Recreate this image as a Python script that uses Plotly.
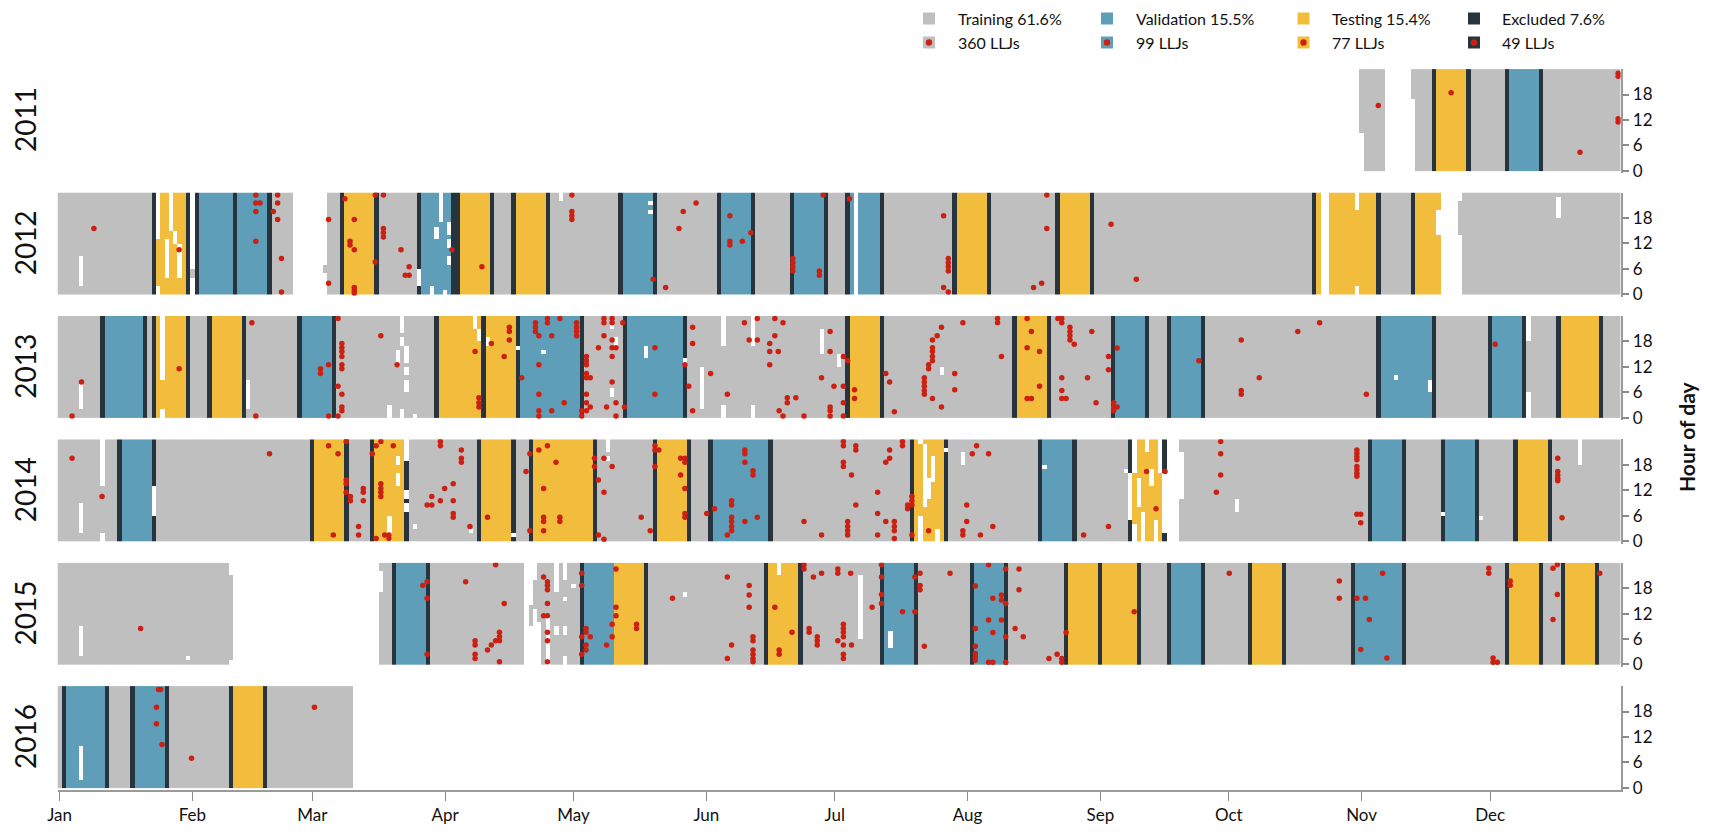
import plotly.graph_objects as go

# The page body has an 8px default margin; the figure is sized and laid out to compensate.
PAGE_W, PAGE_H = 1709, 835
OFF = 8
W, H = PAGE_W - 2 * OFF, PAGE_H - 2 * OFF


def px(xpix):
    return (xpix - OFF) / W


def py(ypix):
    return 1 - (ypix - OFF) / H


GRAY = "#bfbfbf"
BLUE = "#5e9eb8"
YELLOW = "#f2bc3c"
DARK = "#27343d"
RED = "#cc2012"
FONT = "Lato, 'Open Sans', sans-serif"

YEARS = [2011, 2012, 2013, 2014, 2015, 2016]
MONTH_TICKS = [0, 31, 59, 90, 120, 151, 181, 212, 243, 273, 304, 334]
MONTH_LABELS = ["Jan", "Feb", "Mar", "Apr", "May", "Jun", "Jul", "Aug", "Sep", "Oct", "Nov", "Dec"]
HOUR_TICKS = [0, 6, 12, 18]
LEGEND_LABELS = ["Training 61.6%", "Validation 15.5%", "Testing 15.4%", "Excluded 7.6%"]
LEGEND_COUNTS = ["360 LLJs", "99 LLJs", "77 LLJs", "49 LLJs"]

# ---- data coverage: (first_day, last_day) with data, all hours ----
COVERAGE = {
    2011: [(305, 309), (317, 364)],
    2012: [(0, 30), (32, 54), (63, 185), (187, 294), (297, 322), (328, 364)],
    2013: [(0, 364)],
    2014: [(0, 258), (262, 364)],
    2015: [(0, 39), (75, 108), (110, 364)],
    2016: [(0, 68)],
}
# partially covered days: (day, first_hour, last_hour)
PARTIAL = {
    2011: [(304, 9, 23), (316, 17, 23)],
    2012: [(31, 4, 5), (62, 5, 6), (327, 14, 21)],
    2013: [],
    2014: [],
    2015: [(40, 1, 20)],
    2016: [],
}
# validation weeks (first_day, last_day)
VALIDATION = {
    2011: [(339, 345)],
    2012: [(33, 40), (42, 48), (85, 91), (132, 138), (155, 161), (172, 178), (185, 191)],
    2013: [(11, 19), (57, 63), (108, 121), (133, 145), (247, 253), (260, 266), (309, 320), (335, 341)],
    2014: [(15, 21), (153, 165), (230, 236), (307, 313), (324, 330)],
    2015: [(79, 85), (123, 129), (193, 199), (214, 220), (260, 266), (303, 313)],
    2016: [(2, 10), (18, 24)],
}
# testing weeks (first_day, last_day)
TESTING = {
    2011: [(322, 328)],
    2012: [(23, 29), (67, 73), (94, 100), (107, 113), (210, 216), (234, 240), (294, 294), (297, 307), (317, 322)],
    2013: [(23, 29), (36, 42), (89, 98), (100, 106), (185, 191), (224, 230), (351, 359)],
    2014: [(60, 66), (74, 80), (99, 105), (111, 124), (140, 146), (200, 206), (251, 257), (341, 347)],
    2015: [(130, 136), (166, 172), (236, 242), (244, 251), (279, 285), (339, 345), (352, 358)],
    2016: [(41, 47)],
}
# missing hours inside covered days: (day, first_hour, last_hour)
GAPS = {
    2011: [],
    2012: [(5, 2, 8), (23, 13, 23), (23, 0, 1), (25, 4, 12), (26, 15, 23), (27, 12, 14), (28, 4, 11),
           (84, 2, 5), (87, 0, 1), (88, 13, 15), (89, 17, 23), (90, 0, 0), (91, 14, 16), (91, 11, 12),
           (91, 7, 8), (117, 22, 23), (138, 21, 21), (138, 19, 19), (303, 20, 23), (303, 0, 1),
           (322, 14, 19), (350, 18, 22)],
    2013: [(5, 2, 7), (24, 9, 23), (24, 0, 1), (44, 2, 8), (80, 20, 23), (80, 17, 18), (81, 13, 16),
           (79, 12, 15), (81, 10, 11), (81, 6, 8), (77, 0, 2), (80, 0, 1), (83, 0, 0), (97, 21, 23),
           (98, 18, 20), (100, 17, 18), (107, 16, 16), (113, 15, 15), (129, 21, 23), (130, 17, 18),
           (129, 5, 6), (137, 14, 16), (146, 13, 13), (150, 2, 11), (155, 17, 23), (155, 0, 2),
           (162, 17, 23), (162, 0, 2), (178, 15, 20), (182, 12, 14), (206, 10, 11), (312, 9, 9),
           (320, 6, 8), (343, 0, 5), (343, 18, 23)],
    2014: [(5, 2, 8), (10, 13, 23), (10, 0, 1), (22, 6, 12), (77, 0, 5), (79, 18, 19), (79, 13, 15),
           (81, 19, 23), (81, 10, 11), (81, 7, 8), (83, 3, 3), (96, 2, 2), (106, 1, 1), (128, 21, 23),
           (128, 19, 19), (201, 0, 5), (201, 23, 23), (202, 8, 22), (203, 10, 14), (204, 14, 19),
           (205, 0, 2), (207, 21, 21), (211, 18, 20), (230, 17, 17), (249, 16, 16), (250, 5, 15),
           (251, 16, 23), (251, 0, 3), (252, 8, 14), (253, 0, 6), (254, 21, 23), (255, 13, 16),
           (256, 0, 4), (257, 16, 23), (258, 2, 15), (262, 10, 20), (275, 7, 9), (323, 6, 6),
           (332, 5, 5), (355, 18, 23)],
    2015: [(5, 2, 8), (30, 1, 1), (75, 17, 21), (110, 0, 8), (110, 14, 23), (111, 0, 12), (111, 20, 23),
           (112, 0, 9), (114, 0, 11), (116, 17, 23), (116, 7, 8), (118, 20, 23), (118, 15, 15),
           (118, 7, 8), (118, 0, 1), (120, 18, 18), (146, 16, 16), (168, 21, 23), (187, 6, 20),
           (194, 4, 7)],
    2016: [(5, 2, 9)],
}

# ---- low-level jets: (day of year, hour) ----
LLJ_2011 = [(307.9, 15.4), (324.9, 18.4), (355.0, 4.4), (363.9, 23.0), (363.9, 22.3), (363.9, 12.3),
            (363.9, 11.5)]
LLJ_2012 = [(8.0, 15.5), (27.9, 10.5), (45.8, 23.4), (45.8, 21.5), (46.8, 21.5), (45.8, 19.5), (45.8, 12.5),
            (50.9, 23.4), (50.9, 21.5), (49.9, 19.5), (50.9, 17.6), (51.8, 8.4), (51.8, 0.5),
            (62.8, 17.6), (62.8, 2.6), (66.6, 22.5), (68.8, 17.6), (67.8, 12.5), (67.8, 11.6), (68.8, 10.5),
            (68.8, 1.6), (68.8, 0.9), (68.8, 0.3), (73.7, 23.4), (73.7, 7.6), (75.6, 23.4), (75.6, 15.5),
            (75.6, 14.5), (75.6, 13.5), (79.7, 10.5), (81.6, 6.5), (80.7, 4.5), (81.6, 4.5), (91.6, 10.5),
            (98.6, 6.5), (119.6, 23.4), (119.6, 19.5), (119.6, 18.5), (119.6, 17.6), (138.6, 3.5),
            (141.5, 1.6), (144.6, 15.5), (145.6, 19.5), (148.6, 21.5), (156.5, 18.5), (156.5, 12.5),
            (156.5, 11.6), (159.4, 12.5), (161.4, 14.5), (171.2, 8.4), (171.2, 7.4), (171.2, 6.5),
            (171.2, 5.5), (177.4, 5.5), (177.4, 4.5), (178.3, 23.4), (184.4, 22.5), (206.4, 18.5),
            (207.5, 8.4), (207.5, 7.4), (207.5, 6.5), (207.5, 5.5), (206.4, 1.6), (207.5, 0.5),
            (230.5, 23.4), (230.5, 15.5), (229.3, 2.6), (227.4, 1.6), (245.5, 16.5), (251.4, 3.5)]
LLJ_2013 = [(2.9, 0.4), (5.1, 8.4), (27.9, 11.5), (44.9, 22.4), (45.8, 0.4), (60.9, 11.5), (60.9, 10.4),
            (62.8, 12.5), (65.0, 23.4), (65.9, 17.5), (65.9, 16.5), (65.9, 15.6), (65.9, 14.4), (65.9, 12.5),
            (65.9, 11.5), (65.0, 7.4), (65.9, 5.5), (65.9, 2.5), (65.9, 1.6), (65.0, 0.4), (62.8, 0.4),
            (75.0, 19.3), (78.8, 12.5), (97.0, 15.6), (97.9, 4.7), (97.9, 3.5), (97.9, 2.5), (100.8, 17.5),
            (103.8, 14.4), (105.0, 21.3), (105.0, 20.3), (105.0, 18.3), (107.9, 9.4), (111.1, 22.4),
            (111.1, 21.3), (111.1, 20.3), (111.9, 19.3), (113.9, 23.4), (113.9, 22.4), (116.8, 23.4),
            (114.9, 19.3), (111.9, 12.5), (111.9, 5.5), (111.9, 1.6), (111.9, 0.4), (114.9, 1.6),
            (117.8, 3.5), (120.7, 22.4), (120.7, 21.3), (120.7, 20.3), (120.7, 19.3), (121.9, 1.6),
            (121.9, 0.4), (123.0, 14.4), (123.0, 13.4), (123.0, 12.5), (123.0, 10.4), (123.0, 9.4),
            (123.9, 9.4), (123.0, 5.5), (123.0, 3.5), (123.9, 2.5), (123.0, 1.6), (127.1, 23.4),
            (127.1, 22.4), (127.1, 19.3), (129.0, 23.4), (129.0, 22.4), (129.0, 18.3), (125.8, 16.5),
            (129.0, 16.5), (129.9, 16.5), (129.0, 14.4), (129.0, 8.4), (127.7, 2.5), (129.9, 3.5),
            (131.9, 2.5), (129.9, 0.4), (131.5, 22.4), (139.0, 16.5), (139.0, 5.5), (146.0, 12.5),
            (146.9, 7.4), (147.8, 1.6), (147.8, 21.3), (147.8, 17.5), (152.0, 10.4), (155.9, 5.5),
            (159.9, 22.4), (162.9, 23.4), (167.0, 23.4), (168.9, 22.4), (161.0, 18.3), (162.9, 18.3),
            (167.0, 19.3), (165.8, 17.5), (165.8, 15.6), (167.8, 15.6), (165.8, 12.5), (169.9, 4.7),
            (171.9, 4.7), (169.9, 3.5), (168.0, 1.6), (168.9, 0.4), (173.8, 0.4), (177.9, 9.4),
            (179.9, 20.3), (179.9, 15.6), (180.8, 7.4), (183.0, 7.4), (183.0, 3.5), (179.9, 2.5),
            (179.9, 1.6), (179.9, 0.4), (183.0, 0.4), (183.0, 14.4), (184.0, 13.4), (185.6, 6.6),
            (185.6, 4.5), (192.9, 10.4), (193.8, 8.4), (194.9, 1.4), (201.9, 9.4), (201.9, 8.4),
            (201.9, 7.4), (201.9, 6.4), (201.9, 5.5), (202.9, 12.5), (202.9, 11.5), (203.8, 15.6),
            (203.8, 14.4), (203.8, 13.4), (203.8, 16.5), (203.8, 18.3), (204.9, 19.3), (205.9, 21.3),
            (203.8, 4.5), (205.9, 2.5), (209.0, 10.4), (209.0, 6.6), (210.9, 22.4), (219.0, 23.4),
            (219.0, 22.4), (219.9, 14.4), (225.9, 23.4), (226.9, 20.3), (225.9, 16.5), (228.8, 15.6),
            (228.8, 7.4), (225.9, 4.5), (226.9, 4.5), (233.1, 23.4), (234.0, 23.4), (234.0, 22.4),
            (235.9, 21.3), (235.9, 20.3), (235.9, 19.3), (235.9, 18.3), (236.9, 17.3), (241.0, 20.3),
            (234.0, 9.4), (234.0, 6.4), (234.0, 4.5), (235.0, 4.5), (240.0, 9.4), (242.0, 3.5),
            (244.9, 14.4), (244.9, 11.3), (246.9, 16.4), (246.1, 3.5), (246.1, 2.5), (246.9, 2.5),
            (246.1, 1.6), (266.0, 13.4), (275.9, 18.3), (275.9, 6.4), (275.9, 5.5), (280.1, 9.4),
            (289.1, 20.3), (294.2, 22.4), (305.1, 5.5), (335.2, 17.3)]
LLJ_2014 = [(2.9, 19.5), (9.9, 10.5), (49.0, 20.6), (62.8, 22.5), (65.0, 20.6), (66.9, 23.5), (66.9, 14.4),
            (66.9, 13.5), (66.9, 11.5), (67.9, 10.5), (67.9, 9.5), (63.9, 1.4), (69.8, 3.4), (69.8, 1.4),
            (70.9, 12.4), (70.9, 11.5), (70.9, 9.5), (73.0, 20.6), (73.9, 22.5), (75.0, 23.5), (77.9, 22.5),
            (75.0, 13.5), (75.0, 12.4), (75.0, 11.5), (75.0, 10.5), (73.9, 0.6), (75.9, 1.4), (76.9, 1.4),
            (76.9, 0.6), (85.8, 8.5), (86.9, 8.5), (86.9, 10.5), (88.9, 9.5), (89.9, 12.4), (91.9, 13.5),
            (91.9, 9.5), (91.9, 6.5), (91.9, 5.6), (88.9, 23.5), (88.9, 22.5), (93.8, 21.5), (93.8, 19.5),
            (93.8, 18.6), (95.8, 3.4), (99.9, 5.6), (109.8, 20.6), (108.9, 16.4), (111.9, 21.5),
            (113.9, 22.5), (115.9, 18.6), (113.0, 12.4), (113.0, 5.6), (113.0, 4.6), (116.8, 5.6),
            (116.8, 4.6), (109.8, 2.4), (113.0, 2.4), (124.9, 19.5), (124.9, 17.6), (127.1, 19.5),
            (129.0, 17.6), (125.8, 14.4), (127.1, 11.5), (125.8, 1.4), (127.1, 0.4), (135.8, 5.6),
            (137.9, 2.4), (139.0, 22.5), (139.0, 21.5), (139.9, 21.5), (139.0, 17.6), (145.0, 19.5),
            (146.0, 19.5), (146.0, 18.6), (145.0, 15.6), (146.0, 12.4), (146.0, 6.5), (146.0, 5.6),
            (151.1, 6.5), (152.9, 7.6), (156.9, 9.5), (156.9, 8.5), (156.9, 5.6), (156.9, 4.6),
            (156.9, 3.4), (156.9, 2.4), (155.9, 1.4), (160.0, 21.5), (160.0, 20.6), (160.0, 18.6),
            (161.9, 16.6), (161.9, 15.6), (160.0, 4.6), (162.9, 5.6), (173.8, 4.6), (177.9, 1.4),
            (183.0, 23.5), (183.0, 22.5), (183.0, 18.6), (183.0, 17.6), (184.9, 15.6), (185.9, 22.5),
            (185.9, 21.5), (185.9, 8.5), (184.0, 4.6), (184.0, 3.4), (184.0, 2.4), (184.0, 1.4),
            (191.0, 11.5), (191.0, 6.5), (191.0, 1.4), (192.9, 18.6), (193.8, 19.5), (193.8, 21.5),
            (192.9, 4.6), (194.9, 4.6), (194.9, 3.4), (194.9, 2.4), (194.9, 0.6), (196.8, 23.5),
            (196.8, 22.5), (198.0, 8.5), (198.0, 7.6), (199.0, 10.5), (199.0, 9.5), (199.0, 8.5),
            (199.0, 1.4), (202.9, 2.4), (210.9, 2.4), (210.9, 1.4), (211.8, 8.5), (211.8, 4.6),
            (213.1, 20.6), (214.1, 22.5), (215.0, 1.4), (216.9, 20.6), (217.9, 3.4), (239.1, 1.4),
            (244.9, 3.4), (253.8, 16.4), (258.1, 16.4), (256.0, 7.6), (271.1, 23.5), (271.1, 20.6),
            (271.1, 15.6), (270.1, 11.5), (302.9, 21.5), (302.9, 20.7), (302.9, 19.9), (302.9, 19.2),
            (302.9, 17.6), (302.9, 16.8), (302.9, 16.0), (302.9, 15.3), (302.9, 6.3), (303.8, 6.3),
            (303.8, 4.3), (349.8, 19.5), (349.8, 16.4), (349.8, 15.6), (349.8, 14.8), (349.8, 14.2),
            (350.8, 5.5)]
LLJ_2015 = [(18.9, 8.5), (101.8, 23.5), (94.8, 19.5), (84.8, 18.6), (85.8, 19.5), (85.8, 15.6), (85.8, 2.4),
            (103.8, 14.4), (97.0, 5.6), (97.0, 4.6), (97.0, 2.4), (97.0, 1.4), (99.9, 3.4), (100.8, 4.6),
            (101.8, 5.6), (102.7, 5.6), (102.7, 6.5), (102.7, 7.6), (102.7, 0.6), (113.0, 20.6),
            (113.9, 19.5), (113.9, 18.6), (113.9, 17.6), (113.9, 14.4), (113.0, 11.5), (113.9, 11.5),
            (113.9, 7.6), (113.9, 5.6), (113.9, 0.6), (121.9, 21.5), (121.9, 18.6), (122.9, 8.5),
            (122.9, 7.6), (123.9, 6.5), (121.9, 6.5), (122.9, 4.6), (122.9, 3.4), (121.9, 2.4),
            (127.7, 4.6), (129.0, 9.5), (129.0, 6.5), (129.9, 22.5), (129.9, 13.5), (129.9, 11.5),
            (134.7, 9.5), (134.7, 8.5), (143.1, 15.6), (155.9, 20.6), (161.0, 18.6), (161.0, 16.4),
            (161.0, 13.5), (156.9, 4.6), (155.9, 1.4), (161.9, 6.5), (161.9, 5.6), (161.9, 3.4),
            (161.9, 2.4), (161.9, 1.4), (161.9, 0.6), (167.0, 13.5), (168.0, 3.4), (168.0, 2.4),
            (171.0, 7.6), (173.8, 23.5), (173.8, 22.5), (176.0, 20.6), (177.9, 21.5), (181.7, 22.5),
            (181.7, 21.5), (184.7, 21.5), (175.0, 8.5), (175.0, 7.6), (176.9, 6.5), (176.9, 5.6),
            (176.9, 4.6), (181.7, 5.6), (183.0, 9.5), (183.0, 8.5), (183.0, 7.6), (183.0, 6.5),
            (183.0, 4.6), (183.0, 2.4), (183.0, 1.4), (184.9, 4.6), (189.7, 13.5), (191.9, 23.5),
            (191.9, 20.6), (191.9, 16.5), (191.9, 14.4), (196.8, 12.4), (199.7, 12.4), (199.7, 20.6),
            (200.9, 21.5), (200.9, 18.6), (200.9, 17.6), (201.9, 4.3), (207.9, 21.5), (213.8, 18.5),
            (213.8, 8.5), (213.8, 4.3), (213.8, 2.6), (213.8, 1.8), (213.8, 1.0), (216.9, 23.5),
            (217.9, 15.6), (219.9, 16.4), (219.9, 15.2), (220.9, 14.4), (216.9, 10.5), (219.9, 10.5),
            (217.9, 7.5), (216.9, 0.5), (217.9, 0.5), (220.9, 22.5), (224.0, 22.5), (220.9, 6.5),
            (220.9, 0.5), (223.1, 8.5), (225.0, 6.5), (224.0, 17.6), (231.0, 1.4), (232.9, 2.4),
            (234.0, 1.4), (234.0, 0.5), (235.0, 7.5), (250.9, 12.4), (273.1, 21.5), (298.8, 19.7),
            (298.8, 15.6), (302.9, 15.6), (304.9, 15.6), (305.8, 10.6), (303.8, 3.5), (309.9, 1.5),
            (308.9, 21.5), (333.7, 22.7), (333.7, 21.5), (338.7, 19.7), (338.7, 18.7), (334.7, 1.5),
            (334.7, 0.5), (335.7, 0.5), (348.7, 22.7), (349.7, 23.6), (349.7, 16.5), (348.7, 10.6),
            (359.6, 21.5)]
LLJ_2016 = [(23.1, 23.2), (23.6, 23.2), (22.6, 19.0), (22.6, 15.1), (23.9, 10.2), (30.8, 7.0), (59.5, 19.0)]
LLJ = {2011: LLJ_2011, 2012: LLJ_2012, 2013: LLJ_2013, 2014: LLJ_2014, 2015: LLJ_2015, 2016: LLJ_2016}

NDAYS = 365
TRAIN, VAL, TEST, EXCL = 0, 1, 2, 3


def build_grid(year):
    z = [[None] * NDAYS for _ in range(24)]

    def setv(d, h0, h1, v, only_existing=False):
        if d < 0 or d >= NDAYS:
            return
        for h in range(h0, h1 + 1):
            if only_existing and z[h][d] is None:
                continue
            z[h][d] = v

    for a, b in COVERAGE[year]:
        for d in range(a, b + 1):
            setv(d, 0, 23, TRAIN)
    for d, h0, h1 in PARTIAL[year]:
        setv(d, h0, h1, TRAIN)
    for a, b in VALIDATION[year] + TESTING[year]:
        setv(a - 1, 0, 23, EXCL, True)
        setv(b + 1, 0, 23, EXCL, True)
    for a, b in VALIDATION[year]:
        for d in range(a, b + 1):
            setv(d, 0, 23, VAL, True)
    for a, b in TESTING[year]:
        for d in range(a, b + 1):
            setv(d, 0, 23, TEST, True)
    for d, h0, h1 in GAPS[year]:
        setv(d, h0, h1, None)
    return z


COLORSCALE = [[0.0, GRAY], [0.25, GRAY], [0.25, BLUE], [0.5, BLUE],
              [0.5, YELLOW], [0.75, YELLOW], [0.75, DARK], [1.0, DARK]]

# ---- geometry (page pixels) ----
X_LEFT, X_RIGHT = 57.5, 1620.7
ROW_TOP0, ROW_STEP, ROW_H = 69.1, 123.4, 101.7
PX_PER_H = ROW_H / 24.0

fig = go.Figure()
layout_axes = {}
annotations = []
shapes = []

for i, year in enumerate(YEARS):
    top = ROW_TOP0 + i * ROW_STEP
    bottom = top + ROW_H + PX_PER_H * 0.6  # axis extends slightly below hour 0
    ydom = [py(bottom), py(top)]
    xname = "x" if i == 0 else f"x{i + 1}"
    yname = "y" if i == 0 else f"y{i + 1}"
    xkey = "xaxis" if i == 0 else f"xaxis{i + 1}"
    ykey = "yaxis" if i == 0 else f"yaxis{i + 1}"

    fig.add_trace(go.Heatmap(
        z=build_grid(year), x=list(range(NDAYS)), y=[h + 0.5 for h in range(24)],
        zmin=-0.5, zmax=3.5, colorscale=COLORSCALE, showscale=False,
        hoverinfo="skip", xaxis=xname, yaxis=yname))
    pts = LLJ[year]
    fig.add_trace(go.Scatter(
        x=[p[0] for p in pts], y=[p[1] for p in pts], mode="markers",
        marker=dict(size=5.5, color=RED, line=dict(width=0)),
        hoverinfo="skip", showlegend=False, xaxis=xname, yaxis=yname))

    last = (i == len(YEARS) - 1)
    layout_axes[xkey] = dict(
        domain=[px(X_LEFT), px(X_RIGHT)], range=[-0.5, NDAYS - 0.5], anchor=yname,
        showgrid=False, zeroline=False, automargin=False,
        showline=last, linecolor="#9a9a9a", linewidth=1.5,
        ticks="outside" if last else "", ticklen=9, tickwidth=1.2, tickcolor="#8a8a8a",
        tickvals=MONTH_TICKS, ticktext=MONTH_LABELS, showticklabels=last,
        tickfont=dict(family=FONT, size=17, color="#111111"),
        **({} if i == 0 else {"matches": "x"}))
    layout_axes[ykey] = dict(
        domain=ydom, range=[-0.6, 24], anchor=xname, side="right", automargin=False,
        showgrid=False, zeroline=False, showline=True, linecolor="#9a9a9a", linewidth=1.5,
        ticks="outside", ticklen=7, tickwidth=1.5, tickcolor="#8a8a8a",
        tickvals=HOUR_TICKS, ticktext=[str(t) for t in HOUR_TICKS],
        tickfont=dict(family=FONT, size=17, color="#111111"))

    annotations.append(dict(
        text=str(year), x=px(25), y=py(top + ROW_H / 2), xref="paper", yref="paper",
        textangle=-90, showarrow=False, xanchor="center", yanchor="middle",
        font=dict(family=FONT, size=28, color="#111111")))

annotations.append(dict(
    text="<b>Hour of day</b>", x=px(1686), y=py(437), xref="paper", yref="paper",
    textangle=-90, showarrow=False, xanchor="center", yanchor="middle",
    font=dict(family=FONT, size=21, color="#111111")))

# ---- legend (manual) ----
LEG_SQ_X = [929, 1107, 1303.5, 1474]
LEG_TXT_X = [955.7, 1133.7, 1329.8, 1499.6]
LEG_ROW_Y = [18.5, 42.5]
LEG_COLORS = [GRAY, BLUE, YELLOW, DARK]
SQ = 12
for j in range(4):
    for r, labels in enumerate([LEGEND_LABELS, LEGEND_COUNTS]):
        cx, cy = LEG_SQ_X[j], LEG_ROW_Y[r]
        shapes.append(dict(type="rect", xref="paper", yref="paper",
                           x0=px(cx - SQ / 2), x1=px(cx + SQ / 2),
                           y0=py(cy + SQ / 2), y1=py(cy - SQ / 2),
                           fillcolor=LEG_COLORS[j], line=dict(width=0)))
        if r == 1:
            rd = 3.2
            shapes.append(dict(type="circle", xref="paper", yref="paper",
                               x0=px(cx - rd), x1=px(cx + rd),
                               y0=py(cy + rd), y1=py(cy - rd),
                               fillcolor=RED, line=dict(width=0)))
        annotations.append(dict(
            text=labels[j], x=px(LEG_TXT_X[j]), y=py(cy), xref="paper", yref="paper",
            showarrow=False, xanchor="left", yanchor="middle",
            font=dict(family=FONT, size=16, color="#111111")))

fig.update_layout(
    width=W, height=H, margin=dict(l=0, r=0, t=0, b=0, autoexpand=False),
    paper_bgcolor="white", plot_bgcolor="white", showlegend=False,
    font=dict(family=FONT), annotations=annotations, shapes=shapes,
    **layout_axes)

fig.write_html("out.html")
